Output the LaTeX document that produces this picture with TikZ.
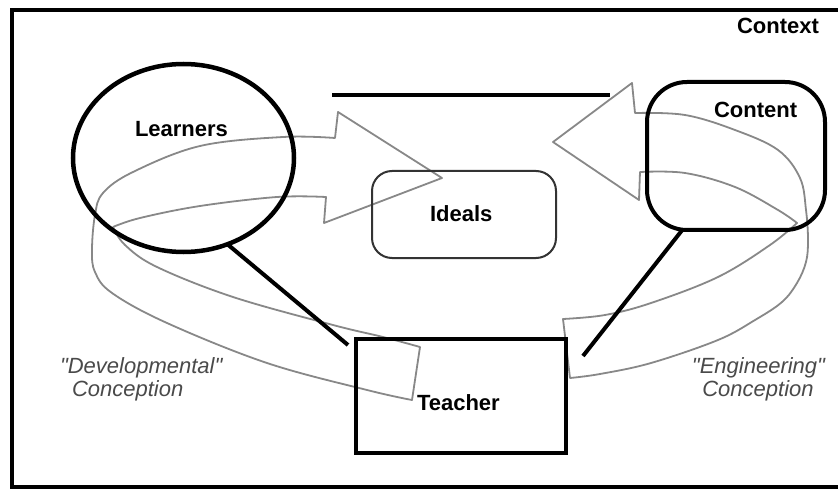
\documentclass[tikz,border=0pt]{standalone}
\usepackage{fontspec}
\setmainfont{Liberation Sans}
\newfontfamily\conceptfont{Liberation Sans}
\usetikzlibrary{shapes.geometric,calc}
\definecolor{ribbongray}{HTML}{888888}
\definecolor{conceptgray}{HTML}{4A4A4A}
\definecolor{idealgray}{HTML}{333333}
\tikzset{
  ribbon/.style={draw=ribbongray, line width=1.8pt, line join=round},
  lbl/.style={font=\bfseries\fontsize{22}{22}\selectfont, anchor=base west, inner sep=0pt, outer sep=0pt},
  concept/.style={font=\conceptfont\itshape\fontsize{22}{22}\selectfont, text=conceptgray, inner sep=0pt, outer sep=0pt},
  connector/.style={draw=black, line width=4pt}
}
\begin{document}
\begin{tikzpicture}[x=1pt,y=-1pt]
\useasboundingbox (0,0) rectangle (838,489);
\clip (0,0) rectangle (838,489);
\fill[white] (0,0) rectangle (838,489);
% outer context frame
\draw[line width=4.5pt] (860,10) -- (12,10) -- (12,487) -- (860,487);
% top line
\draw[line width=3.5pt] (332,95) -- (610,95);
% left ribbon arrow (developmental)
\draw[ribbon] (442,178) -- (338,112) -- (335,138)
  -- plot[smooth, tension=0.6] coordinates {(335,138) (283,137) (200,146) (133,172) (103,193) (95,215) (92,250) (95,272) (112,293) (167,323) (267,363) (367,390) (412,400)}
  -- (420,347)
  -- plot[smooth, tension=0.6] coordinates {(420,347) (383,337) (333,325) (233,297) (157,267) (125,245) (113,227)}
  -- plot[smooth, tension=0.6] coordinates {(113,227) (140,218) (200,206) (277,197) (326,197)}
  -- (324,223) -- cycle;
% right ribbon arrow (engineering)
\draw[ribbon] (553,142) -- (632,83) -- (635,113)
  -- plot[smooth, tension=0.6] coordinates {(635,113) (685,115) (735,130) (778,150) (800,178) (806,210) (808,240) (806,262) (797,283) (782,302) (755,320) (718,340) (651,363) (600,374) (570,378)}
  -- (563,319)
  -- plot[smooth, tension=0.6] coordinates {(563,319) (605,315) (651,303) (718,277) (770,245) (797,223)}
  -- plot[smooth, tension=0.6] coordinates {(797,223) (778,210) (735,187) (685,173) (640,172)}
  -- (639,200) -- cycle;
% nodes
\node[ellipse, draw, line width=4.5pt, minimum width=221pt, minimum height=188pt, inner sep=0pt, outer sep=0pt] (learners) at (183.5,158) {};
\node[draw, line width=4pt, rounded corners=40pt, minimum width=178pt, minimum height=148pt, inner sep=0pt, outer sep=0pt] (content) at (736,156) {};
\node[draw=idealgray, line width=2pt, rounded corners=20pt, minimum width=184pt, minimum height=87pt, inner sep=0pt, outer sep=0pt] (ideals) at (464,214.5) {};
\node[draw, line width=4pt, minimum width=210pt, minimum height=114pt, inner sep=0pt, outer sep=0pt] (teacher) at (461,396) {};
% labels
\node[lbl] (contextlbl) at (737,34) {Context};
\node[lbl] (learnerslbl) at (135,137) {Learners};
\node[lbl] (contentlbl) at (714,118) {Content};
\node[lbl] (idealslbl) at (430,222) {Ideals};
\node[lbl] (teacherlbl) at (417,410) {Teacher};
\node[concept, anchor=base west] (devA) at (60,373) {"Developmental"};
\node[concept, anchor=base west] (devB) at (72,396) {Conception};
\node[concept, anchor=base] (engA) at (758.5,373) {"Engineering"};
\node[concept, anchor=base] (engB) at (758,396) {Conception};
% connectors
\draw[connector] (learners.-63) -- ($(teacher.north west)+(-8,6)$);
\draw[connector] (content.-126) -- ($(teacher.north east)+(17,17)$);
\end{tikzpicture}
\end{document}
